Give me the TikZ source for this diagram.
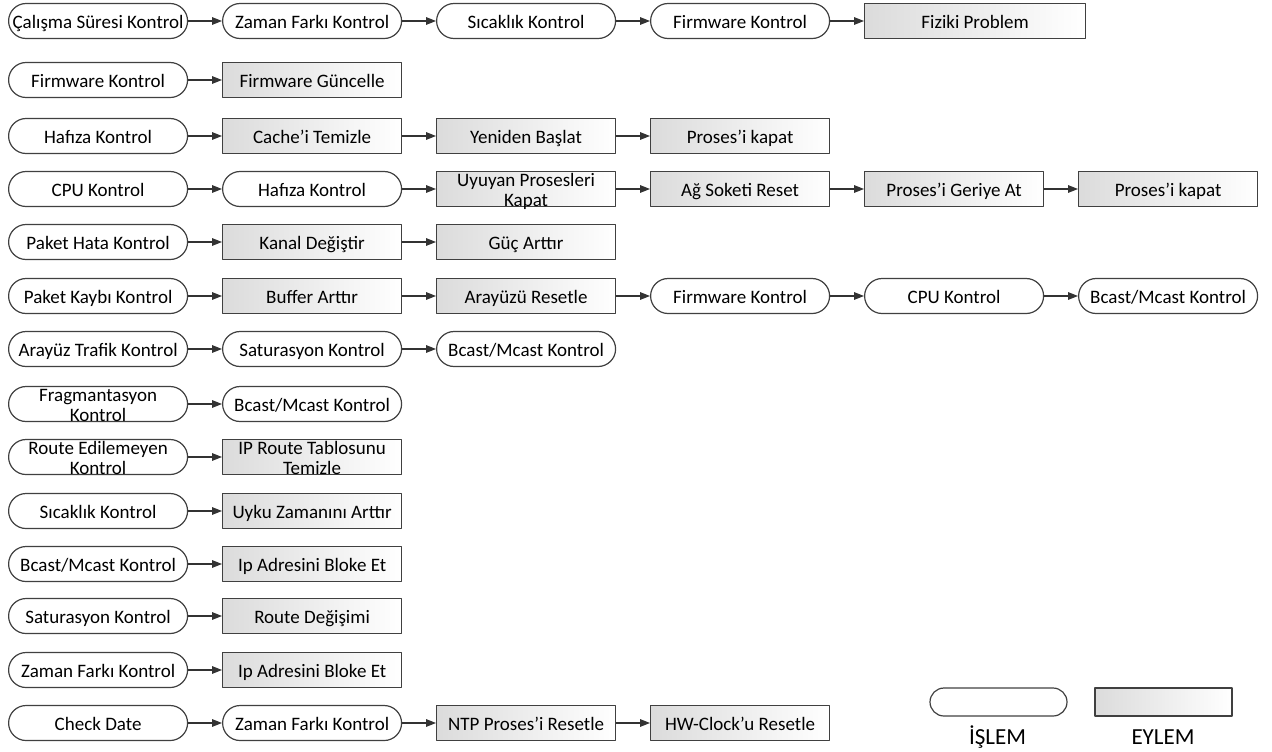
\documentclass[tikz,border=0pt]{standalone}
\usepackage{fontspec}
\setmainfont{Carlito}
\usetikzlibrary{arrows.meta,shapes.misc}
\def\ust{\vrule height 10pt depth 0pt width 0pt} % üst dikme
\def\alt{\vrule height 0pt depth 2.5pt width 0pt} % alt dikme
\tikzset{
	kutu/.style={draw=black!75, line width=0.6pt, minimum width=89.5pt, minimum height=17.5pt, inner sep=0pt, anchor=west},
	islem/.style={kutu, rounded rectangle},
	eylem/.style={kutu, rectangle, left color=black!14, right color=white},
	genis/.style={eylem, minimum width=110.5pt},
	yazi/.style={align=center, inner sep=0pt},
	ok/.style={-{Triangle[length=5pt,width=3.8pt]}, draw=black!80, line width=0.6pt}
}
\begin{document}
\begin{tikzpicture}[x=0.5pt, y=-0.5pt, font=\fontsize{9.5}{10}\selectfont, line join=round]
	\useasboundingbox (0,0) rectangle (1272,751); % sayfa sınırı
	\def\xs{8} \def\dx{214} % ilk sütunun sol kenarı, sütun aralığı
	% satır/y/sütun/tür/yazı
	\foreach \r/\y/\c/\tur/\txt in {
		1/21/1/islem/{Çalışma Süresi Kontrol}, 1/21/2/islem/{Zaman Farkı Kontrol}, 1/21/3/islem/{Sıcaklık Kontrol}, 1/21/4/islem/{Firmware Kontrol}, 1/21/5/genis/{Fiziki Problem},
		2/80/1/islem/{Firmware Kontrol}, 2/80/2/eylem/{Firmware Güncelle},
		3/136/1/islem/{Hafıza Kontrol}, 3/136/2/eylem/{Cache’i Temizle}, 3/136/3/eylem/{Yeniden Başlat}, 3/136/4/eylem/{Proses’i kapat},
		4/189/1/islem/{CPU Kontrol}, 4/189/2/islem/{Hafıza Kontrol}, 4/189/3/eylem/{Uyuyan Prosesleri\\Kapat}, 4/189/4/eylem/{Ağ Soketi Reset}, 4/189/5/eylem/{Proses’i Geriye At}, 4/189/6/eylem/{Proses’i kapat},
		5/242/1/islem/{Paket Hata Kontrol}, 5/242/2/eylem/{Kanal Değiştir}, 5/242/3/eylem/{Güç Arttır},
		6/296/1/islem/{Paket Kaybı Kontrol}, 6/296/2/eylem/{Buffer Arttır}, 6/296/3/eylem/{Arayüzü Resetle}, 6/296/4/islem/{Firmware Kontrol}, 6/296/5/islem/{CPU Kontrol}, 6/296/6/islem/{Bcast/Mcast Kontrol},
		7/349/1/islem/{Arayüz Trafik Kontrol}, 7/349/2/islem/{Saturasyon Kontrol}, 7/349/3/islem/{Bcast/Mcast Kontrol},
		8/404/1/islem/{Fragmantasyon\\Kontrol}, 8/404/2/islem/{Bcast/Mcast Kontrol},
		9/457/1/islem/{Route Edilemeyen\\Kontrol}, 9/457/2/eylem/{IP Route Tablosunu\\Temizle},
		10/511/1/islem/{Sıcaklık Kontrol}, 10/511/2/eylem/{Uyku Zamanını Arttır},
		11/564/1/islem/{Bcast/Mcast Kontrol}, 11/564/2/eylem/{Ip Adresini Bloke Et},
		12/616/1/islem/{Saturasyon Kontrol}, 12/616/2/eylem/{Route Değişimi},
		13/670/1/islem/{Zaman Farkı Kontrol}, 13/670/2/eylem/{Ip Adresini Bloke Et},
		14/723/1/islem/{Check Date}, 14/723/2/islem/{Zaman Farkı Kontrol}, 14/723/3/eylem/{NTP Proses’i Resetle}, 14/723/4/eylem/{HW-Clock’u Resetle}}
	{
		\node[\tur] (n\r-\c) at ({\xs+(\c-1)*\dx},\y) {};
		\node[yazi] (t\r-\c) at (n\r-\c.center) {\ust\txt\alt};
	}
	% satır/kutu sayısı
	\foreach \r/\n in {1/5,2/2,3/4,4/6,5/3,6/6,7/3,8/2,9/2,10/2,11/2,12/2,13/2,14/4}
	{
		\pgfmathtruncatemacro\m{\n-1}
		\foreach \c in {1,...,\m}
		{
			\pgfmathtruncatemacro\d{\c+1}
			\draw[ok] (n\r-\c.east) -- (n\r-\d.west);
		}
	}
	% açıklama
	\node[islem, anchor=center, minimum width=68.5pt, minimum height=14pt] (lislem) at (998.5,702) {};
	\node[eylem, anchor=center, minimum width=68.5pt, minimum height=14pt] (leylem) at (1163.5,702) {};
	\node[font=\fontsize{11.5}{13}\selectfont] (tislem) at (997.5,737) {İŞLEM};
	\node[font=\fontsize{11.5}{13}\selectfont] (teylem) at (1163,737) {EYLEM};
\end{tikzpicture}
\end{document}
